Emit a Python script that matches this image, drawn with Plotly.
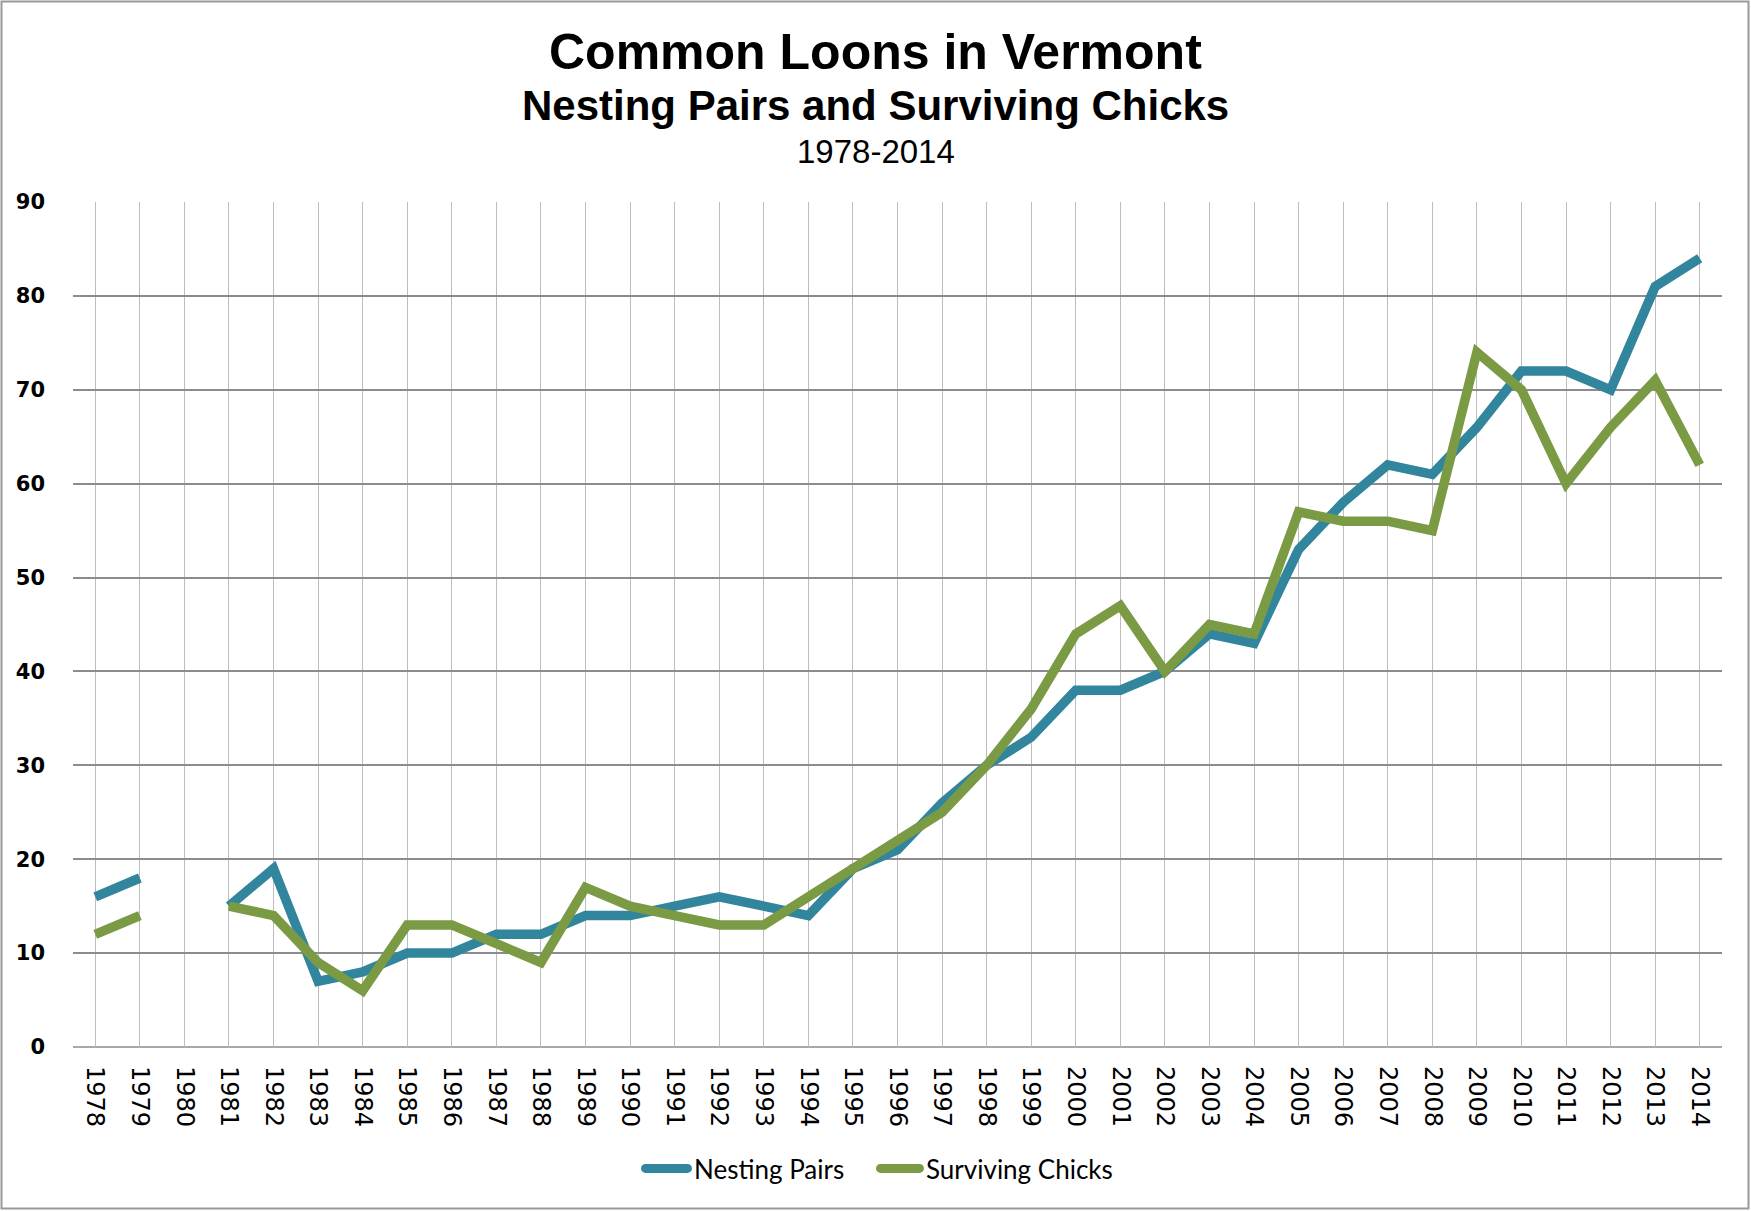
import plotly.graph_objects as go

years = [str(y) for y in range(1978, 2015)]
nesting_pairs = [16, 18, None, 15, 19, 7, 8, 10, 10, 12, 12, 14, 14, 15, 16, 15, 14, 19, 21, 26,
                 30, 33, 38, 38, 40, 44, 43, 53, 58, 62, 61, 66, 72, 72, 70, 81, 84]
surviving_chicks = [12, 14, None, 15, 14, 9, 6, 13, 13, 11, 9, 17, 15, 14, 13, 13, 16, 19, 22, 25,
                    30, 36, 44, 47, 40, 45, 44, 57, 56, 56, 55, 74, 70, 60, 66, 71, 62]
y_ticks = [0, 10, 20, 30, 40, 50, 60, 70, 80, 90]
series_names = ["Nesting Pairs", "Surviving Chicks"]

W, H = 1751, 1211
L, R, T, B = 73, 1722, 202, 1047.5
PW, PH = R - L, B - T


def px_x(px):
    return (px - L) / PW


def px_y(py):
    return (B - py) / PH


teal = "#31859C"
green = "#7A9A44"
colors = [teal, green]
LW = 9.5

fig = go.Figure()
fig.add_trace(go.Scatter(x=years, y=nesting_pairs, mode="lines", name=series_names[0],
                         line=dict(color=teal, width=LW), connectgaps=False))
fig.add_trace(go.Scatter(x=years, y=surviving_chicks, mode="lines", name=series_names[1],
                         line=dict(color=green, width=LW), connectgaps=False))

fig.update_layout(
    width=W, height=H,
    margin=dict(l=L, r=W - R, t=T, b=H - B, pad=0),
    paper_bgcolor="white", plot_bgcolor="white",
    showlegend=False,
    xaxis=dict(type="category", categoryorder="array", categoryarray=years,
               range=[-0.5, len(years) - 0.5], showgrid=True, gridcolor="#BDBDBD", gridwidth=1,
               showline=False, zeroline=False, ticks="", tickangle=90,
               ticklabelstandoff=18,
               tickfont=dict(family="DejaVu Sans", size=24, color="black")),
    yaxis=dict(range=[0, 90], tickvals=y_ticks, ticktext=[str(v) for v in y_ticks],
               showgrid=True, gridcolor="#8C8C8C", gridwidth=1.5, zeroline=False,
               showline=False, ticks="", ticklabelstandoff=27,
               tickfont=dict(family="DejaVu Sans", size=21, color="black", weight="bold")),
)

# x-axis baseline (same style as horizontal gridlines)
fig.add_shape(type="line", xref="paper", yref="paper", x0=0, x1=1, y0=0, y1=0,
              line=dict(color="#8C8C8C", width=1.5), layer="below")

# outer chart border
fig.add_shape(type="rect", xref="paper", yref="paper",
              x0=px_x(1.5), x1=px_x(1748.5), y0=px_y(1209), y1=px_y(1.5),
              line=dict(color="#9A9A9A", width=2), fillcolor="rgba(0,0,0,0)")

# custom legend (thick rounded-look line samples)
legend_sym_x = [(641, 692), (876, 924)]
legend_y = 1169
for (sx0, sx1), name, col in zip(legend_sym_x, series_names, colors):
    fig.add_shape(type="line", xref="paper", yref="paper",
                  x0=px_x(sx0 + 4), x1=px_x(sx1 - 4), y0=px_y(legend_y), y1=px_y(legend_y),
                  line=dict(color=col, width=9))
    for cxp in (sx0 + 4.5, sx1 - 4.5):
        fig.add_shape(type="circle", xref="paper", yref="paper",
                      x0=px_x(cxp - 4.5), x1=px_x(cxp + 4.5),
                      y0=px_y(legend_y + 4.5), y1=px_y(legend_y - 4.5),
                      line=dict(width=0), fillcolor=col)
    fig.add_annotation(text=name, xref="paper", yref="paper", x=px_x(sx1), y=px_y(legend_y + 1),
                       xanchor="left", yanchor="middle", showarrow=False,
                       font=dict(family="Lato", size=26, color="black"))

cx = px_x(W / 2)
fig.add_annotation(text="<b>Common Loons in Vermont</b>", xref="paper", yref="paper",
                   x=cx, y=px_y(51.5), xanchor="center", yanchor="middle", showarrow=False,
                   font=dict(family="Liberation Sans", size=50, color="black"))
fig.add_annotation(text="<b>Nesting Pairs and Surviving Chicks</b>", xref="paper", yref="paper",
                   x=cx, y=px_y(105), xanchor="center", yanchor="middle", showarrow=False,
                   font=dict(family="Liberation Sans", size=42, color="black"))
fig.add_annotation(text="1978-2014", xref="paper", yref="paper",
                   x=cx, y=px_y(151), xanchor="center", yanchor="middle", showarrow=False,
                   font=dict(family="Liberation Sans", size=33, color="black"))

fig.write_html("out.html", config={"displayModeBar": False},
               post_script="document.body.style.margin='0';")
